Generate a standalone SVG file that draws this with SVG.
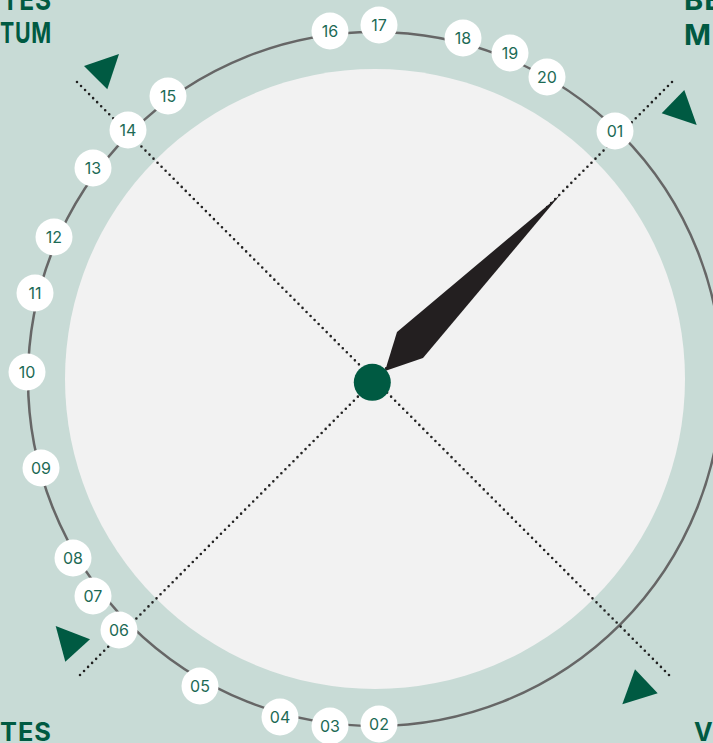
<svg xmlns="http://www.w3.org/2000/svg" width="713" height="743" viewBox="0 0 713 743">
<style>
.num circle{fill:#fff}
.num text{font-family:Inter,"Noto Sans",sans-serif;font-size:16px;fill:#1d6a55;text-anchor:middle;dominant-baseline:central}
.dot{stroke:#222;stroke-width:2.6;stroke-linecap:round;stroke-dasharray:0 5.7;fill:none}
.tri{fill:#005a42}
.big{font-family:Inter,"Open Sans",sans-serif;font-weight:700;fill:#005a42;letter-spacing:1px}
</style>
<rect width="713" height="743" fill="#c8dbd6"/>
<circle cx="375" cy="379" r="310" fill="#f2f2f2"/>
<circle cx="375" cy="379" r="347" fill="none" stroke="#666" stroke-width="2.5"/>
<g id="connectors">
<line class="dot" x1="77" y1="82" x2="672" y2="678"/>
<line class="dot" x1="672" y1="82" x2="77" y2="678"/>
</g>
<g id="arrows">
<polygon class="tri" points="84,66 119,54 107.3,89.3"/>
<polygon class="tri" points="661.7,113.3 684.3,90 696.7,125"/>
<polygon class="tri" points="55.7,626 90,639.3 65.3,661.7"/>
<polygon class="tri" points="635,669.3 657.7,693.3 622.3,704.3"/>
</g>
<g id="hand">
<polygon points="560,195 397,332 385,371 423,358" fill="#231f20"/>
</g>
<g id="center"><circle cx="372.3" cy="382.3" r="18.5" fill="#005a42"/></g>
<g id="n01" class="num"><circle cx="615" cy="131" r="18.5"/><text x="615" y="131">01</text></g>
<g id="n02" class="num"><circle cx="379" cy="724" r="18.5"/><text x="379" y="724">02</text></g>
<g id="n03" class="num"><circle cx="330" cy="726" r="18.5"/><text x="330" y="726">03</text></g>
<g id="n04" class="num"><circle cx="280" cy="717" r="18.5"/><text x="280" y="717">04</text></g>
<g id="n05" class="num"><circle cx="200" cy="686" r="18.5"/><text x="200" y="686">05</text></g>
<g id="n06" class="num"><circle cx="119" cy="630" r="18.5"/><text x="119" y="630">06</text></g>
<g id="n07" class="num"><circle cx="93" cy="596" r="18.5"/><text x="93" y="596">07</text></g>
<g id="n08" class="num"><circle cx="73" cy="558" r="18.5"/><text x="73" y="558">08</text></g>
<g id="n09" class="num"><circle cx="41" cy="468" r="18.5"/><text x="41" y="468">09</text></g>
<g id="n10" class="num"><circle cx="27" cy="372" r="18.5"/><text x="27" y="372">10</text></g>
<g id="n11" class="num"><circle cx="35" cy="293" r="18.5"/><text x="35" y="293">11</text></g>
<g id="n12" class="num"><circle cx="54" cy="237" r="18.5"/><text x="54" y="237">12</text></g>
<g id="n13" class="num"><circle cx="93" cy="168" r="18.5"/><text x="93" y="168">13</text></g>
<g id="n14" class="num"><circle cx="128" cy="130" r="18.5"/><text x="128" y="130">14</text></g>
<g id="n15" class="num"><circle cx="168" cy="96" r="18.5"/><text x="168" y="96">15</text></g>
<g id="n16" class="num"><circle cx="330" cy="31" r="18.5"/><text x="330" y="31">16</text></g>
<g id="n17" class="num"><circle cx="379" cy="25" r="18.5"/><text x="379" y="25">17</text></g>
<g id="n18" class="num"><circle cx="463" cy="38" r="18.5"/><text x="463" y="38">18</text></g>
<g id="n19" class="num"><circle cx="510" cy="53" r="18.5"/><text x="510" y="53">19</text></g>
<g id="n20" class="num"><circle cx="547" cy="77" r="18.5"/><text x="547" y="77">20</text></g>
<g id="labels">
<text class="big" x="2" y="10" font-size="29" textLength="50" lengthAdjust="spacingAndGlyphs">TES</text>
<text class="big" x="0" y="43" font-size="29" textLength="52" lengthAdjust="spacingAndGlyphs">TUM</text>
<text class="big" x="684" y="10" font-size="29">BE</text>
<text class="big" x="684" y="45" font-size="29">M</text>
<text class="big" x="0" y="741" font-size="25" textLength="52" lengthAdjust="spacingAndGlyphs">TES</text>
<text class="big" x="694" y="741" font-size="25">V</text>
</g>
</svg>
